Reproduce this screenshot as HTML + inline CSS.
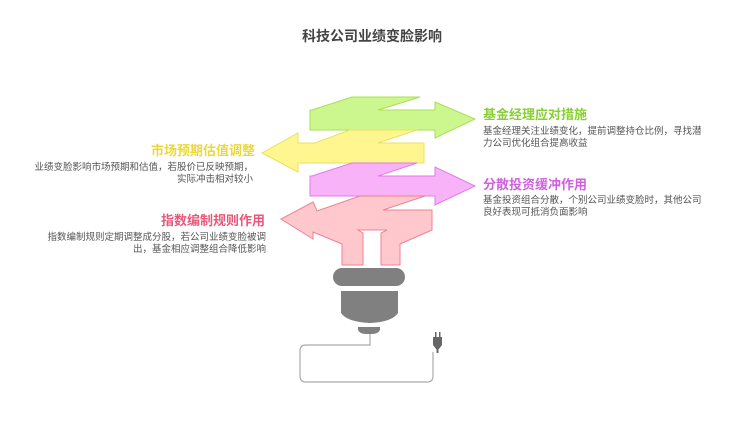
<!DOCTYPE html>
<html><head><meta charset="utf-8"><style>
html,body{margin:0;padding:0;background:#fff;width:744px;height:437px;overflow:hidden}
svg text{font-family:"Liberation Sans","Noto Sans CJK SC",sans-serif}
</style></head><body>
<svg width="744" height="437" viewBox="0 0 744 437" xmlns="http://www.w3.org/2000/svg">
<text x="372" y="41" text-anchor="middle" font-size="14" font-weight="bold" fill="#444">科技公司业绩变脸影响</text>

<!-- green -->
<polygon points="352,97 420,97 378,110 435,110 435,102 475,119 435,138 435,130 310,130 310,110 312,110" fill="#ccf78e" stroke="#a8e050" stroke-width="1"/>
<!-- yellow -->
<polygon points="350,130 417,130 378,143 424,143 424,163 298,163 298,172 262,153 298,133 298,143 315,143" fill="#fff690" stroke="#ece060" stroke-width="1"/>
<!-- magenta -->
<polygon points="352,163 417,163 378,176 435,176 435,167 475,186 435,205 435,196 310,196 310,176 312,176" fill="#f8b2f8" stroke="#e07ae8" stroke-width="1"/>
<!-- pink -->
<polygon points="360,196 425,196 383,210 432,210 432,230 400,244 400,265 381,265 381,233 387,230 358,230 363,233 363,265 342,265 342,244 313,232 313,239 281,219 313,202 317,211" fill="#ffc8cc" stroke="#f08096" stroke-width="1"/>

<!-- bulb -->
<rect x="333" y="268" width="72" height="18" rx="9" fill="#808080"/>
<path d="M341,291 H398 V313 Q392,322 370,323 Q347,322 341,313 Z" fill="#808080"/>
<path d="M358,327 H380 V330 Q378,334 372,334 H366 Q360,334 358,330 Z" fill="#808080"/>

<!-- wire -->
<path d="M370,334 V345 H306 Q300,345 300,351 V376 Q300,382 306,382 H427 Q433,382 433,376 V352" fill="none" stroke="#aaa" stroke-width="1.2"/>
<!-- plug -->
<rect x="435" y="332" width="1.5" height="6" fill="#666"/>
<rect x="439" y="332" width="1.5" height="6" fill="#666"/>
<path d="M433,337 H442 V345 L439,349 H436 L433,345 Z" fill="#666"/>
<rect x="436.5" y="349" width="2" height="4" fill="#666"/>

<!-- left labels -->
<text x="255" y="155" text-anchor="end" font-size="13" font-weight="bold" fill="#ecd83a">市场预期估值调整</text>
<text x="253" y="170" text-anchor="end" font-size="9.5" fill="#555">业绩变脸影响市场预期和估值，若股价已反映预期，</text>
<text x="253" y="182" text-anchor="end" font-size="9.5" fill="#555">实际冲击相对较小</text>

<text x="265" y="225" text-anchor="end" font-size="13" font-weight="bold" fill="#e8587a">指数编制规则作用</text>
<text x="266" y="240" text-anchor="end" font-size="9.5" fill="#555">指数编制规则定期调整成分股，若公司业绩变脸被调</text>
<text x="266" y="252" text-anchor="end" font-size="9.5" fill="#555">出，基金相应调整组合降低影响</text>

<!-- right labels -->
<text x="483" y="119" font-size="13" font-weight="bold" fill="#88d032">基金经理应对措施</text>
<text x="483" y="134" font-size="9.5" fill="#555">基金经理关注业绩变化，提前调整持仓比例，寻找潜</text>
<text x="483" y="146" font-size="9.5" fill="#555">力公司优化组合提高收益</text>

<text x="483" y="189" font-size="13" font-weight="bold" fill="#d060e0">分散投资缓冲作用</text>
<text x="483" y="203" font-size="9.5" fill="#555">基金投资组合分散，个别公司业绩变脸时，其他公司</text>
<text x="483" y="215" font-size="9.5" fill="#555">良好表现可抵消负面影响</text>
</svg>
</body></html>
